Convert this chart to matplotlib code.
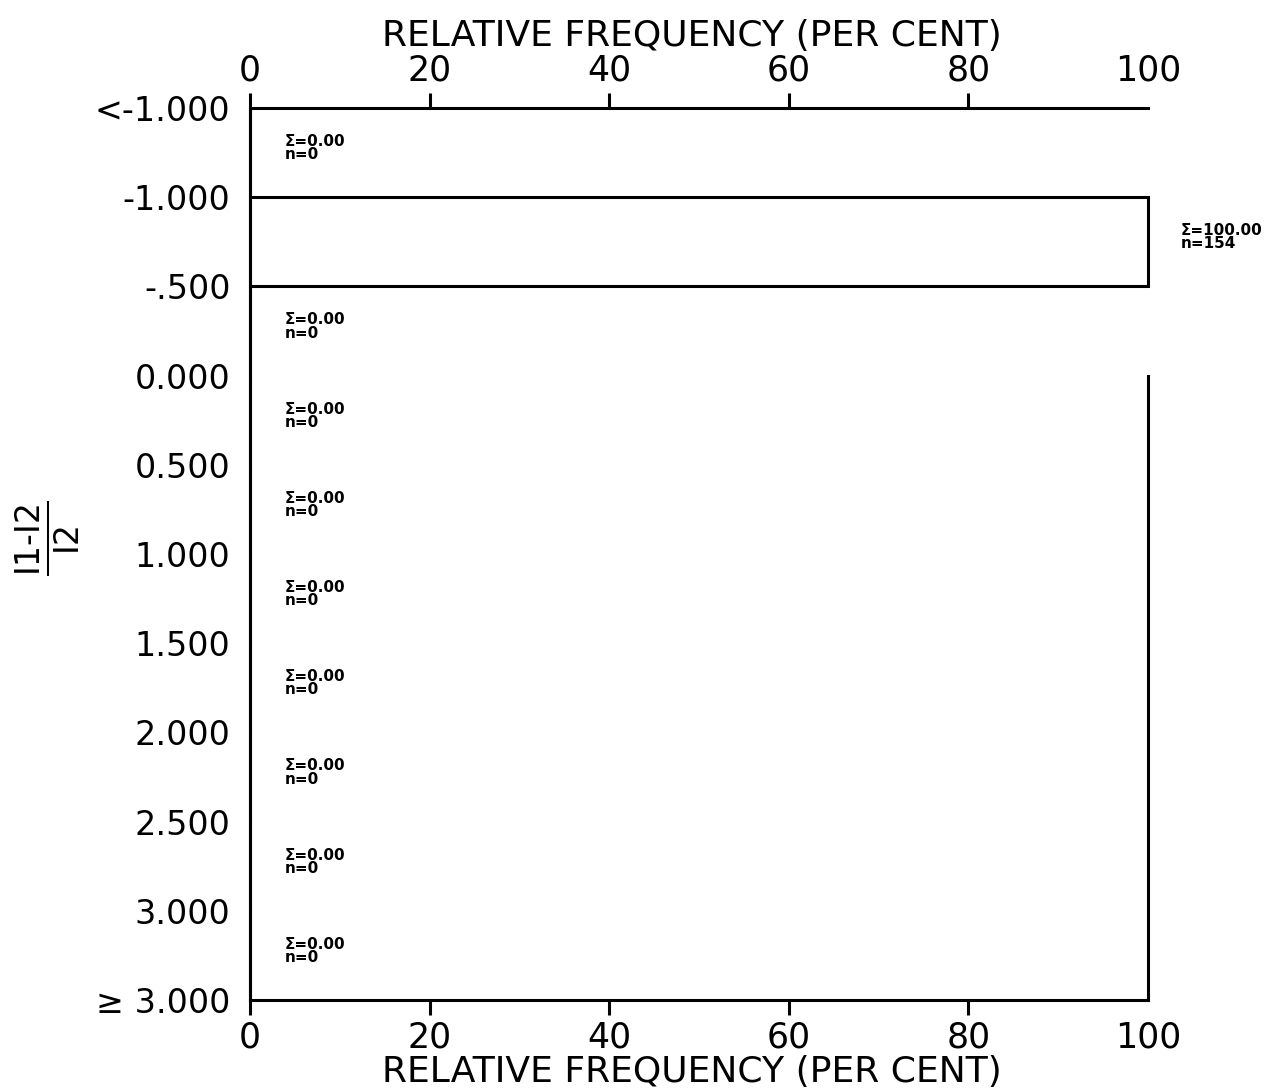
import matplotlib.pyplot as plt
import numpy as np

# bin boundary labels, top to bottom
bin_edges = ['<-1.000', '-1.000', '-.500', '0.000', '0.500', '1.000',
             '1.500', '2.000', '2.500', '3.000', '\u2265 3.000']
# relative frequency (per cent) and counts for each of the 10 bins
rel_freq = [0.0, 100.0, 0.0, 0.0, 0.0, 0.0, 0.0, 0.0, 0.0, 0.0]
counts = [0, 154, 0, 0, 0, 0, 0, 0, 0, 0]
x_ticks = [0, 20, 40, 60, 80, 100]

plt.rcParams['font.family'] = ['DejaVu Sans']
lw = 2.2

fig = plt.figure(figsize=(12.71, 10.92), dpi=100)
ax = fig.add_axes([250 / 1271, 1 - 1000 / 1092, 898 / 1271, 892 / 1092])

n_bins = len(rel_freq)
centers = np.arange(n_bins) + 0.5
ax.barh(centers, rel_freq, height=1.0, fill=False, edgecolor='black',
        linewidth=lw, align='center', clip_on=False)

# per-bin annotation: percentage and count
for yc, f, n in zip(centers, rel_freq, counts):
    xt = f + 3.6 if f > 50 else 3.9
    ax.text(xt, yc - 0.05, f'\u03a3={f:.2f}\nn={n}', fontsize=11, fontweight='bold',
            va='center', ha='left', linespacing=0.85, clip_on=False)

ax.set_xlim(0, 100)
ax.set_ylim(n_bins, 0)

ax.set_yticks(np.arange(n_bins + 1))
ax.set_yticklabels(bin_edges, fontsize=24)
ax.tick_params(axis='y', length=0, pad=14)

ax.set_xticks(x_ticks)
ax.set_xticklabels([str(t) for t in x_ticks], fontsize=25)
ax.tick_params(axis='x', which='both', direction='out', length=11, width=lw,
               top=True, bottom=True, labeltop=True, labelbottom=True, pad=4)
for t in ax.xaxis.get_major_ticks()[-1:]:
    t.tick1line.set_visible(False)
    t.tick2line.set_visible(False)

for s in ['left', 'top', 'bottom', 'right']:
    ax.spines[s].set_linewidth(lw)
ax.spines['right'].set_bounds(3, n_bins)

fig.text(692 / 1271, 1 - 36 / 1092, 'RELATIVE FREQUENCY (PER CENT)',
         fontsize=26, ha='center', va='center')
fig.text(692 / 1271, 1 - 1072 / 1092, 'RELATIVE FREQUENCY (PER CENT)',
         fontsize=26, ha='center', va='center')
fig.text(48 / 1271, 1 - 538 / 1092, r'$\frac{\text{I1-I2}}{\text{I2}}$',
         fontsize=34, rotation=90, ha='center', va='center')

fig.savefig('out.png', dpi=100)
